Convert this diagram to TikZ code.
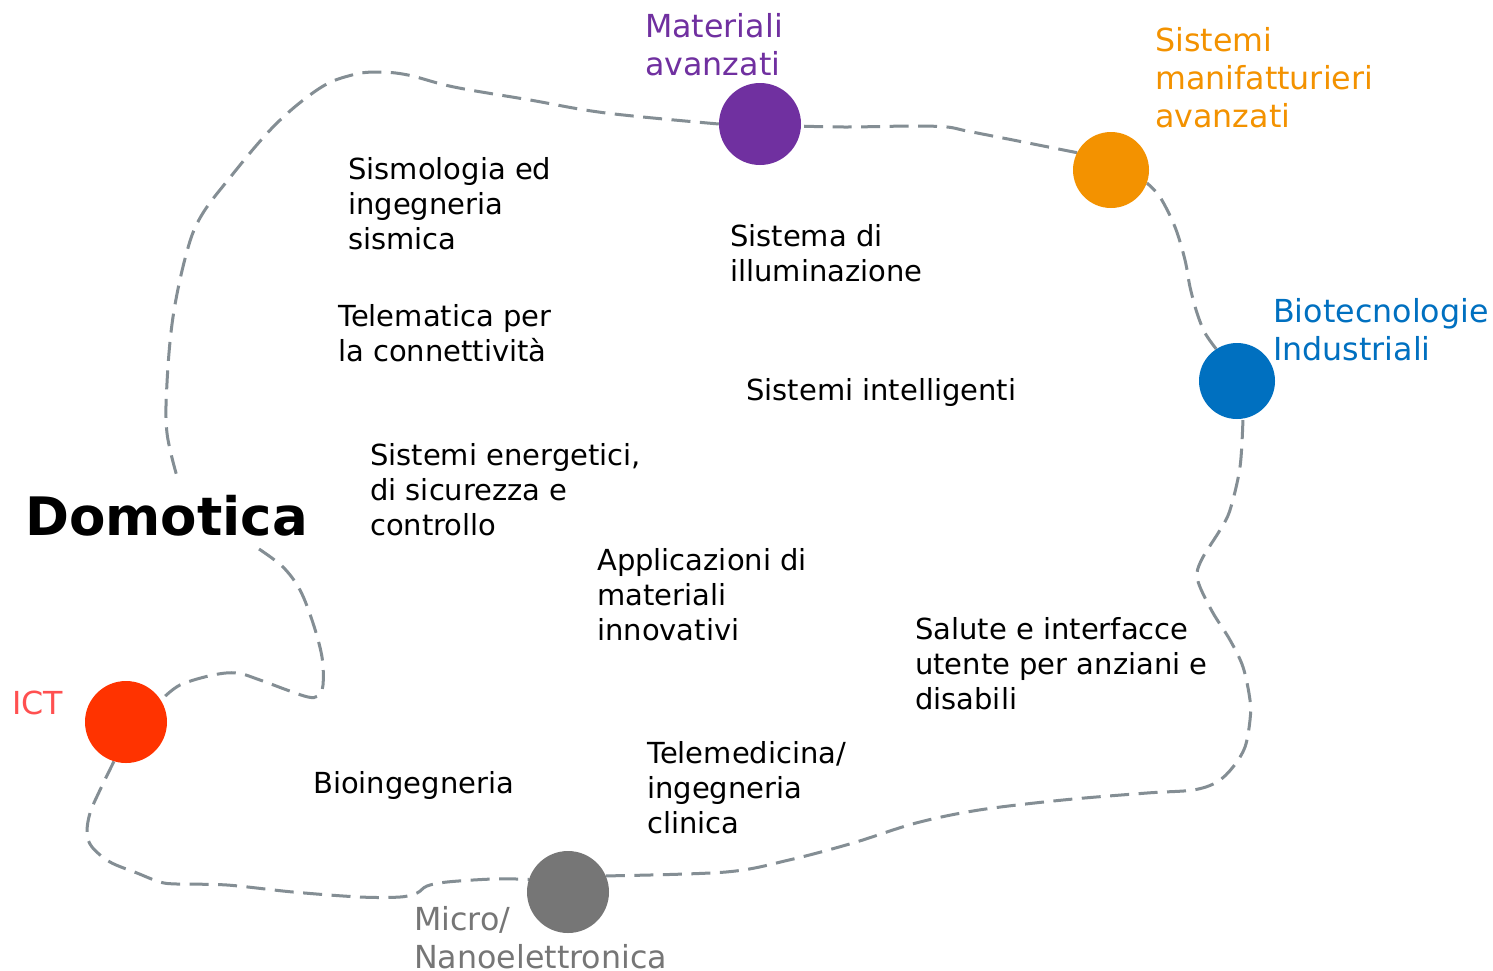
\documentclass[tikz,border=0pt]{standalone}
\usepackage{fontspec}
\setmainfont{DejaVu Sans}
\usetikzlibrary{backgrounds}
\definecolor{cmat}{HTML}{7030A0}
\definecolor{csis}{HTML}{F39200}
\definecolor{cbio}{HTML}{0070C0}
\definecolor{cict}{HTML}{FF3300}
\definecolor{cictt}{HTML}{FF5050}
\definecolor{cmic}{HTML}{767676}
\definecolor{cline}{HTML}{848E94}
\tikzset{
  dot/.style={circle, inner sep=0pt, draw=none, fill=#1},
  lbl/.style={anchor=north west, inner sep=0pt, align=left, font=\fontsize{29}{35}\selectfont},
  clbl/.style={anchor=north west, inner sep=0pt, align=left, text=#1, font=\fontsize{31.7}{38}\selectfont},
  link/.style={draw=cline, line width=3pt, dash pattern=on 19pt off 9.5pt},
}
\begin{document}
\begin{tikzpicture}[x=1pt,y=-1pt]
\useasboundingbox (0,0) rectangle (1493,970);

% circles
\node[dot=cmat, minimum size=82pt] (mat) at (760,124) {};
\node[dot=csis, minimum size=76pt] (sis) at (1111,170) {};
\node[dot=cbio, minimum size=76pt] (bio) at (1237,381) {};
\node[dot=cict, minimum size=82pt] (ict) at (126,722) {};
\node[dot=cmic, minimum size=82pt] (mic) at (568,892) {};

% coloured labels
\node[clbl=cmat] (tmat) at (645,13) {Materiali\\avanzati};
\node[clbl=csis] (tsis) at (1155,27) {Sistemi\\manifatturieri\\avanzati};
\node[clbl=cbio] (tbio) at (1273,298) {Biotecnologie\\Industriali};
\node[clbl=cictt] (tict) at (12,691) {ICT};
\node[clbl=cmic] (tmic) at (414,906) {Micro/\\Nanoelettronica};

% title
\node[anchor=base west, inner sep=0pt, font=\fontsize{53}{60}\selectfont\bfseries] (dom) at (25,535) {Domotica};

% black labels
\node[lbl] (t1) at (348,157) {Sismologia ed\\ingegneria\\sismica};
\node[lbl] (t2) at (730,224) {Sistema di\\illuminazione};
\node[lbl] (t3) at (338,304) {Telematica per\\la connettività};
\node[lbl] (t4) at (746,378) {Sistemi intelligenti};
\node[lbl] (t5) at (370,443) {Sistemi energetici,\\di sicurezza e\\controllo};
\node[lbl] (t6) at (597,548) {Applicazioni di\\materiali\\innovativi};
\node[lbl] (t7) at (915,617) {Salute e interfacce\\utente per anziani e\\disabili};
\node[lbl] (t8) at (647,741) {Telemedicina/\\ingegneria\\clinica};
\node[lbl] (t9) at (313,771) {Bioingegneria};

\coordinate (d1) at (259,549);
\coordinate (d2) at (178,480);

\begin{pgfonlayer}{background}
\fill[white] (0,0) rectangle (1493,970);
\draw[link] plot[smooth, tension=0.55] coordinates {(d1) (283,567) (300,590) (313,623) (322,657) (323,685) (318,696) (308,697) (287,690) (260,680) (237,673) (213,675) (180,685) (ict.32)};
\draw[link] plot[smooth, tension=0.55] coordinates {(ict.-107) (100,790) (90,813) (87,833) (92,847) (110,862) (137,873) (160,882) (177,884) (227,885) (293,892) (360,897) (400,897) (417,893) (427,886) (447,882) (493,879) (mic.162)};
\draw[link] plot[smooth, tension=0.55] coordinates {(mic.23) (726,872) (789,860) (853,843) (916,823) (979,810) (1063,800) (1147,793) (1193,790) (1217,782) (1233,767) (1245,747) (1250,720) (1250,700) (1243,667) (1230,640) (1213,613) (1200,587) (1197,573) (1203,557) (1220,530) (1230,510) (1240,467) (bio.-81)};
\draw[link] plot[smooth, tension=0.55] coordinates {(bio.123) (1205,333) (1197,313) (1190,287) (1185,260) (1175,227) (1160,197) (sis.-20)};
\draw[link] plot[smooth, tension=0.55] coordinates {(sis.153) (1013,140) (967,131) (947,127) (913,126) (847,127) (mat.-3)};
\draw[link] plot[smooth, tension=0.6] coordinates {(mat.180) (606,113) (530,100) (454,87) (408,75) (378,72) (352,75) (320,88) (275,125) (228,180) (200,218) (186,255) (173,317) (167,383) (167,433) (d2)};
\end{pgfonlayer}
\end{tikzpicture}
\end{document}
